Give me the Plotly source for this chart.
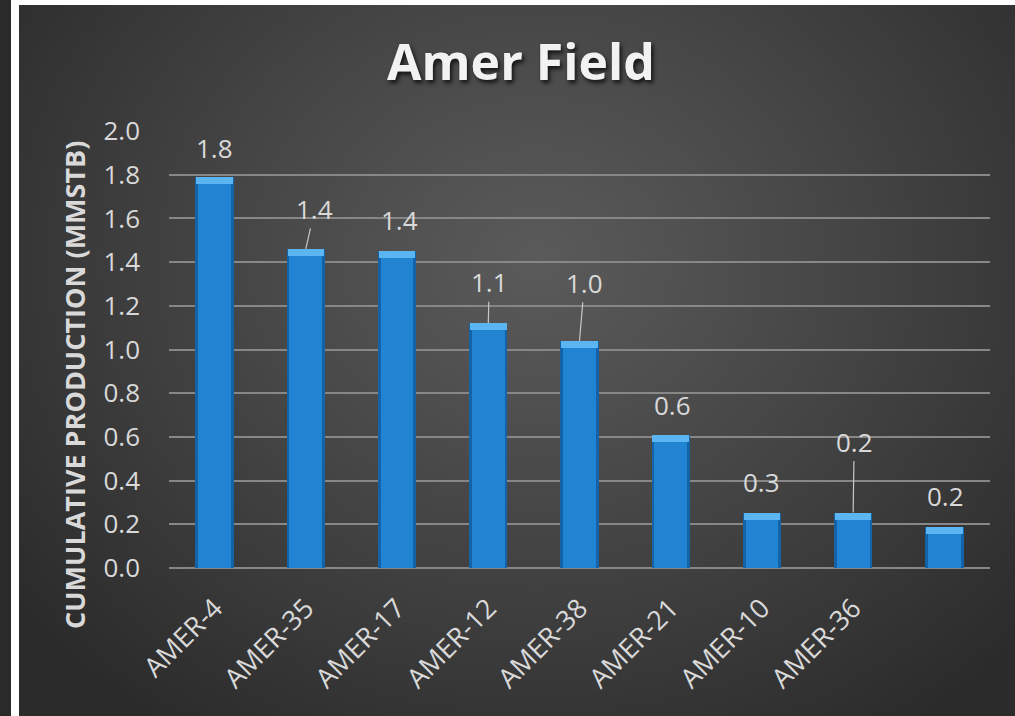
import base64
import struct
import zlib

import numpy as np
import plotly.graph_objects as go

# ---------------- data ----------------
wells = ["AMER-4", "AMER-35", "AMER-17", "AMER-12", "AMER-38",
         "AMER-21", "AMER-10", "AMER-36"]
production = [1.79, 1.46, 1.45, 1.12, 1.04, 0.61, 0.254, 0.254, 0.188]
value_labels = ["1.8", "1.4", "1.4", "1.1", "1.0", "0.6", "0.3", "0.2", "0.2"]
y_tick_values = [0.0, 0.2, 0.4, 0.6, 0.8, 1.0, 1.2, 1.4, 1.6, 1.8, 2.0]

# ---------------- layout constants (pixels) ----------------
W, H = 1015, 716
PL, PR, PT, PB = 169, 990, 131, 568
PW, PH = PR - PL, PB - PT
Y_MAX = 2.0


def px_x(px):
    return (px - PL) / PW


def px_y(py):
    return (PB - py) / PH


# label offsets from bar top (ax, ay in px) and whether a leader line is drawn
label_offsets = [(0, -29), (9, -40), (2, -31), (1, -41), (5, -58),
                 (2, -30), (0, -31), (1, -71), (1, -31)]
leader_lines = [False, True, False, True, True, False, False, True, False]


# ---------------- background gradient image ----------------
def make_png(arr):
    h, w, _ = arr.shape
    raw = b"".join(b"\x00" + arr[r].tobytes() for r in range(h))

    def chunk(tag, data):
        c = struct.pack(">I", len(data)) + tag + data
        return c + struct.pack(">I", zlib.crc32(tag + data) & 0xFFFFFFFF)

    png = b"\x89PNG\r\n\x1a\n"
    png += chunk(b"IHDR", struct.pack(">IIBBBBB", w, h, 8, 2, 0, 0, 0))
    png += chunk(b"IDAT", zlib.compress(raw, 9))
    png += chunk(b"IEND", b"")
    return "data:image/png;base64," + base64.b64encode(png).decode()


gw, gh = 240, 172
gx = np.linspace(0, 1, gw)[None, :]
gy = np.linspace(0, 1, gh)[:, None]
d = np.sqrt(((gx - 0.52) / 0.66) ** 2 + ((gy - 0.36) / 0.80) ** 2)
d = np.clip(d, 0, 1) ** 1.1
c = 0x5a + (0x2b - 0x5a) * d
img = np.repeat(c[:, :, None], 3, axis=2).round().astype(np.uint8)
bg_src = make_png(img)

# ---------------- figure ----------------
fig = go.Figure()
xs = list(range(len(production)))
cap = 7 * Y_MAX / PH  # highlight band thickness in data units

fig.add_trace(go.Bar(x=xs, y=production, width=0.42,
                     marker=dict(color="#1462a8", line=dict(width=0)),
                     hoverinfo="skip", showlegend=False))
fig.add_trace(go.Bar(x=xs, y=production, width=0.36,
                     marker=dict(color="#2184d3", line=dict(width=0)),
                     hoverinfo="skip", showlegend=False))
fig.add_trace(go.Bar(x=xs, y=[cap] * len(production),
                     base=[v - cap for v in production], width=0.40,
                     marker=dict(color="#5ab5f0", line=dict(width=0)),
                     hoverinfo="skip", showlegend=False))

annotations = []
for i, v in enumerate(production):
    ax, ay = label_offsets[i]
    annotations.append(dict(
        x=i, y=v, xref="x", yref="y", text=value_labels[i],
        showarrow=True, arrowhead=0, arrowwidth=1.2, standoff=0,
        arrowcolor="#c8c8c8" if leader_lines[i] else "rgba(0,0,0,0)",
        ax=ax, ay=ay,
        font=dict(family="Open Sans", size=26, color="#d9d9d9"),
    ))

annotations.append(dict(
    text="CUMULATIVE PRODUCTION (MMSTB)", textangle=-90,
    xref="paper", yref="paper", x=px_x(74), y=px_y(385),
    xanchor="center", yanchor="middle", showarrow=False,
    font=dict(family="Open Sans", size=27, color="#d9d9d9", weight="bold"),
))

fig.update_layout(
    width=W, height=H,
    margin=dict(l=PL, r=W - PR, t=PT, b=H - PB, pad=0),
    paper_bgcolor="#ffffff",
    plot_bgcolor="rgba(0,0,0,0)",
    barmode="overlay",
    bargap=0,
    showlegend=False,
    title=dict(
        text="<b>Amer Field</b>",
        x=521 / W, xref="container", xanchor="center",
        y=1 - 62 / H, yref="container", yanchor="middle",
        font=dict(family="Open Sans", size=50, color="#f2f2f2",
                  shadow="2px 3px 4px rgba(0,0,0,0.75)"),
    ),
    xaxis=dict(
        range=[-0.5, len(production) - 0.5],
        tickmode="array", tickvals=list(range(len(wells))), ticktext=wells,
        tickangle=-45, showgrid=False, zeroline=False, showline=False,
        ticks="", ticklabelstandoff=18,
        tickfont=dict(family="Open Sans", size=27, color="#d9d9d9"),
    ),
    yaxis=dict(
        range=[0, Y_MAX], tickmode="array", tickvals=y_tick_values,
        tickformat=".1f", showgrid=True, gridcolor="#878787", gridwidth=1.5,
        zeroline=True, zerolinecolor="#878787", zerolinewidth=1.5,
        showline=False, ticks="", ticklabelstandoff=28,
        tickfont=dict(family="Open Sans", size=26, color="#d9d9d9"),
    ),
    annotations=annotations,
    images=[dict(
        source=bg_src, xref="paper", yref="paper",
        x=px_x(19), y=px_y(5), sizex=(W - 19) / PW, sizey=(H - 5) / PH,
        xanchor="left", yanchor="top", sizing="stretch", layer="below",
    )],
    shapes=[dict(
        type="rect", xref="paper", yref="paper",
        x0=px_x(0), x1=px_x(11), y0=px_y(H), y1=px_y(0),
        fillcolor="#2a2a2a", line=dict(width=0), layer="below",
    )],
)

fig.write_html("out.html")
